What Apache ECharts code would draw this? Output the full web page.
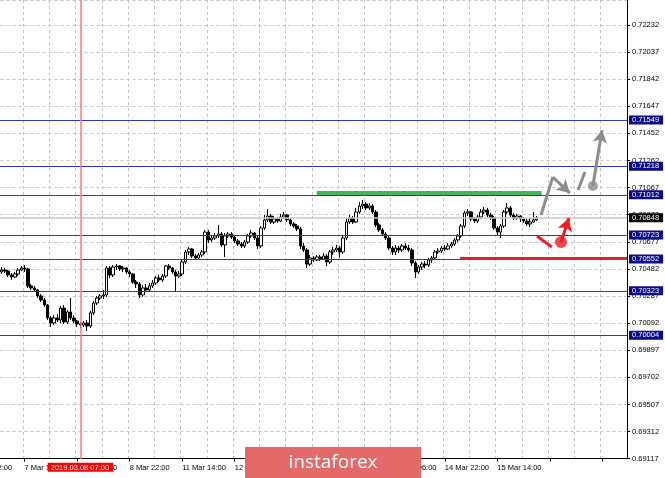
<!DOCTYPE html>
<html>
<head>
<meta charset="utf-8">
<script src="https://cdn.jsdelivr.net/npm/echarts@6/dist/echarts.min.js"></script>
<style>
html,body{margin:0;padding:0;background:#fff;}
#chart{width:665px;height:478px;}
</style>
</head>
<body>
<div id="chart"></div>
<script>
// H1 candles: [open, close, low, high], first bar = 7 Mar 07:00
const candles = [
[0.70458,0.70472,0.70444,0.70494],[0.70472,0.70465,0.70451,0.70487],[0.70465,0.70437,0.70422,0.70472],[0.70437,0.70422,0.70401,0.70451],
[0.70422,0.70444,0.70415,0.70458],[0.70444,0.70472,0.70429,0.70487],[0.70472,0.70487,0.70465,0.70501],[0.70487,0.70480,0.70458,0.70508],
[0.70480,0.70358,0.70343,0.70487],[0.70358,0.70343,0.70329,0.70372],[0.70343,0.70329,0.70314,0.70358],[0.70329,0.70286,0.70271,0.70336],
[0.70286,0.70257,0.70243,0.70300],[0.70257,0.70221,0.70207,0.70271],[0.70221,0.70128,0.70113,0.70228],[0.70128,0.70092,0.70063,0.70142],
[0.70092,0.70128,0.70077,0.70149],[0.70128,0.70113,0.70099,0.70156],[0.70113,0.70199,0.70092,0.70214],[0.70199,0.70099,0.70085,0.70221],
[0.70099,0.70171,0.70085,0.70185],[0.70171,0.70128,0.70113,0.70271],[0.70128,0.70106,0.70092,0.70149],[0.70106,0.70085,0.70063,0.70113],
[0.70085,0.70077,0.70056,0.70099],[0.70077,0.70092,0.70063,0.70106],[0.70092,0.70070,0.70034,0.70113],[0.70070,0.70164,0.70056,0.70178],
[0.70164,0.70235,0.70149,0.70250],[0.70235,0.70271,0.70221,0.70286],[0.70271,0.70286,0.70257,0.70300],[0.70286,0.70293,0.70264,0.70329],
[0.70293,0.70487,0.70279,0.70501],[0.70487,0.70437,0.70415,0.70501],[0.70437,0.70494,0.70422,0.70508],[0.70494,0.70501,0.70472,0.70515],
[0.70501,0.70480,0.70465,0.70508],[0.70480,0.70487,0.70458,0.70501],[0.70487,0.70458,0.70444,0.70494],[0.70458,0.70444,0.70422,0.70472],
[0.70444,0.70386,0.70372,0.70451],[0.70386,0.70372,0.70343,0.70401],[0.70372,0.70293,0.70271,0.70386],[0.70293,0.70343,0.70279,0.70365],
[0.70343,0.70329,0.70314,0.70372],[0.70329,0.70358,0.70322,0.70379],[0.70358,0.70379,0.70343,0.70401],[0.70379,0.70415,0.70365,0.70429],
[0.70415,0.70401,0.70386,0.70437],[0.70401,0.70429,0.70386,0.70444],[0.70429,0.70501,0.70415,0.70508],[0.70501,0.70487,0.70472,0.70515],
[0.70487,0.70458,0.70444,0.70494],[0.70458,0.70429,0.70314,0.70472],[0.70429,0.70444,0.70415,0.70465],[0.70444,0.70530,0.70429,0.70544],
[0.70530,0.70602,0.70515,0.70616],[0.70602,0.70623,0.70580,0.70637],[0.70623,0.70573,0.70559,0.70630],[0.70573,0.70559,0.70544,0.70587],
[0.70559,0.70580,0.70544,0.70594],[0.70580,0.70602,0.70566,0.70616],[0.70602,0.70745,0.70587,0.70760],[0.70745,0.70688,0.70666,0.70760],
[0.70688,0.70702,0.70673,0.70717],[0.70702,0.70717,0.70688,0.70738],[0.70717,0.70731,0.70702,0.70796],[0.70731,0.70652,0.70637,0.70745],
[0.70652,0.70717,0.70566,0.70738],[0.70717,0.70731,0.70702,0.70745],[0.70731,0.70709,0.70695,0.70745],[0.70709,0.70681,0.70666,0.70724],
[0.70681,0.70659,0.70645,0.70695],[0.70659,0.70645,0.70630,0.70673],[0.70645,0.70673,0.70630,0.70688],[0.70673,0.70717,0.70659,0.70731],
[0.70717,0.70738,0.70702,0.70760],[0.70738,0.70702,0.70688,0.70745],[0.70702,0.70645,0.70623,0.70717],[0.70645,0.70774,0.70630,0.70788],
[0.70774,0.70832,0.70760,0.70867],[0.70832,0.70860,0.70817,0.70910],[0.70860,0.70817,0.70803,0.70875],[0.70817,0.70839,0.70803,0.70860],
[0.70839,0.70824,0.70810,0.70853],[0.70824,0.70853,0.70817,0.70875],[0.70853,0.70867,0.70839,0.70889],[0.70867,0.70832,0.70817,0.70875],
[0.70832,0.70803,0.70788,0.70846],[0.70803,0.70788,0.70774,0.70817],[0.70788,0.70767,0.70752,0.70803],[0.70767,0.70645,0.70623,0.70781],
[0.70645,0.70616,0.70602,0.70666],[0.70616,0.70515,0.70487,0.70630],[0.70515,0.70559,0.70501,0.70580],[0.70559,0.70544,0.70530,0.70573],
[0.70544,0.70566,0.70537,0.70580],[0.70566,0.70551,0.70537,0.70580],[0.70551,0.70573,0.70544,0.70594],[0.70573,0.70530,0.70501,0.70587],
[0.70530,0.70602,0.70515,0.70616],[0.70602,0.70616,0.70580,0.70637],[0.70616,0.70630,0.70602,0.70652],[0.70630,0.70602,0.70559,0.70645],
[0.70602,0.70702,0.70587,0.70724],[0.70702,0.70817,0.70688,0.70846],[0.70817,0.70846,0.70803,0.70867],[0.70846,0.70817,0.70803,0.70860],
[0.70817,0.70889,0.70810,0.70918],[0.70889,0.70932,0.70875,0.70961],[0.70932,0.70946,0.70910,0.70975],[0.70946,0.70918,0.70903,0.70961],
[0.70918,0.70932,0.70903,0.70953],[0.70932,0.70889,0.70875,0.70946],[0.70889,0.70796,0.70781,0.70903],[0.70796,0.70760,0.70745,0.70810],
[0.70760,0.70731,0.70717,0.70774],[0.70731,0.70702,0.70688,0.70745],[0.70702,0.70630,0.70616,0.70717],[0.70630,0.70602,0.70580,0.70645],
[0.70602,0.70630,0.70580,0.70652],[0.70630,0.70616,0.70594,0.70645],[0.70616,0.70645,0.70602,0.70659],[0.70645,0.70630,0.70616,0.70666],
[0.70630,0.70616,0.70602,0.70652],[0.70616,0.70523,0.70501,0.70630],[0.70523,0.70458,0.70415,0.70537],[0.70458,0.70494,0.70444,0.70508],
[0.70494,0.70515,0.70472,0.70530],[0.70515,0.70508,0.70487,0.70537],[0.70508,0.70544,0.70494,0.70559],[0.70544,0.70559,0.70523,0.70573],
[0.70559,0.70602,0.70544,0.70616],[0.70602,0.70609,0.70587,0.70630],[0.70609,0.70630,0.70594,0.70645],[0.70630,0.70623,0.70609,0.70652],
[0.70623,0.70645,0.70616,0.70666],[0.70645,0.70659,0.70630,0.70673],[0.70659,0.70688,0.70645,0.70702],[0.70688,0.70717,0.70673,0.70731],
[0.70717,0.70788,0.70702,0.70803],[0.70788,0.70882,0.70774,0.70896],[0.70882,0.70889,0.70860,0.70910],[0.70889,0.70839,0.70824,0.70896],
[0.70839,0.70824,0.70810,0.70853],[0.70824,0.70853,0.70810,0.70867],[0.70853,0.70889,0.70839,0.70910],[0.70889,0.70903,0.70875,0.70925],
[0.70903,0.70867,0.70853,0.70918],[0.70867,0.70846,0.70832,0.70882],[0.70846,0.70774,0.70760,0.70860],[0.70774,0.70745,0.70717,0.70788],
[0.70745,0.70788,0.70702,0.70803],[0.70788,0.70889,0.70774,0.70903],[0.70889,0.70918,0.70875,0.70953],[0.70918,0.70867,0.70853,0.70932],
[0.70867,0.70846,0.70832,0.70882],[0.70846,0.70860,0.70832,0.70875],[0.70860,0.70839,0.70817,0.70867],[0.70839,0.70824,0.70810,0.70853],
[0.70824,0.70803,0.70788,0.70839],[0.70803,0.70817,0.70781,0.70846],[0.70817,0.70832,0.70810,0.70889],[0.70832,0.70846,0.70824,0.70860]
];

// Time-axis tick labels (every 16 bars, first one 9 bars before the first candle)
const xTickLabels = ['6 Mar 22:00','7 Mar 14:00','8 Mar 06:00','8 Mar 22:00','11 Mar 14:00','12 Mar 06:00','12 Mar 22:00','13 Mar 14:00','14 Mar 06:00','14 Mar 22:00','15 Mar 14:00'];
const leadSlots = 9;      // empty slots before first candle (left of the picture)
const totalSlots = 200;   // whole time axis incl. future space on the right

// Price-axis tick labels, bottom to top
const yTickLabels = ['0.69117','0.69312','0.69507','0.69702','0.69897','0.70092','0.70287','0.70482','0.70677','0.70872','0.71067','0.71262','0.71452','0.71647','0.71842','0.72037','0.72232'];
const yMin = 0.69117, yTop = 0.72232, yMax = 0.724116;

// Horizontal levels
const levelValues = ['0.71549','0.71218','0.71012','0.70723','0.70552','0.70323','0.70004'];
const bidValue = '0.70848';
const markerBar = 24; const markerLabel = '2019.03.08 07:00';

// Forecast annotations [barIndex, price]
const greenZone = [[96, 0.71029], [164.5, 0.71029]];
const redZone = [[139.6, 0.70555], [190.5, 0.70555]];
const grayPath = [[164.3, 0.70867], [167.9, 0.71140], [173.1, 0.71025]];
const grayDash = [[175.6, 0.71047], [177.7, 0.71176]];
const grayArrow = [[180.1, 0.71076], [182.9, 0.71478]];
const redDash = [[163.1, 0.70717], [167.6, 0.70637]];
const redArrow = [[170.4, 0.70673], [172.8, 0.70846]];

const categories = [];
for (let k = 0; k < totalSlots; k++) categories.push('b' + (k - leadSlots));
const yStep = (yTop - yMin) / (yTickLabels.length - 1);
const xLo = -leadSlots - 0.5, xHi = totalSlots - leadSlots - 0.5;

const FONT = 'Liberation Sans';
const NAVY = '#3434c4';
const GRAY = '#8c8c8c';
const RED = '#ec1c24';

function seg(a, b, color, width, arrow) {
  return [
    {coord: a, symbol: 'none', lineStyle: {color: color, width: width, type: 'solid'}},
    {coord: b, symbol: arrow ? 'arrow' : 'none', symbolSize: arrow ? [11, 13] : 0}
  ];
}
function boxLabel(text, bg, pos) {
  return {show: true, position: pos, distance: 2, formatter: text, color: '#fff', backgroundColor: bg,
    padding: [1, 4, 0, 3], fontFamily: FONT, fontSize: 7.5};
}
function level(v, color, width, bg) {
  const p = parseFloat(v);
  return [
    {coord: [xLo, p], symbol: 'none', lineStyle: {color: color, width: width, type: 'solid', opacity: 1}, label: boxLabel(v, bg, 'end')},
    {coord: [xHi, p], symbol: 'none'}
  ];
}

const chart = echarts.init(document.getElementById('chart'), null, {renderer: 'canvas'});
chart.setOption({
  animation: false,
  backgroundColor: '#ffffff',
  grid: {left: -29.55, right: 38, top: 0, bottom: 19.3, containLabel: false, outerBoundsMode: 'none'},
  xAxis: [{
    type: 'category', data: categories, boundaryGap: true, gridIndex: 0,
    axisLine: {show: true, onZero: false, lineStyle: {color: '#000', width: 1}},
    axisTick: {show: true, interval: 15, alignWithLabel: true, length: 3, lineStyle: {color: '#000'}},
    axisLabel: {show: true, interval: 15, align: 'left', margin: 5, color: '#000', fontFamily: FONT, fontSize: 7.5,
      hideOverlap: false, formatter: (v, idx) => xTickLabels[idx / 16] || ''},
    splitLine: {show: true, interval: 7, lineStyle: {color: '#c4c4c4', type: [3, 3], width: 1}}
  }, {
    type: 'value', min: xLo, max: xHi, show: false, gridIndex: 0
  }],
  yAxis: [{
    type: 'value', position: 'right', min: yMin, max: yMax, interval: yStep, scale: true,
    axisLine: {show: true, onZero: false, lineStyle: {color: '#000', width: 1}},
    axisTick: {show: true, length: 3, lineStyle: {color: '#000'}},
    axisLabel: {show: true, margin: 5, color: '#000', fontFamily: FONT, fontSize: 7.5, showMaxLabel: false,
      formatter: v => {
        const k = Math.round((v - yMin) / yStep);
        return (k >= 0 && k < yTickLabels.length && Math.abs(v - (yMin + k * yStep)) < yStep / 4) ? yTickLabels[k] : '';
      }},
    splitLine: {show: true, lineStyle: {color: '#c4c4c4', type: [3, 3], width: 1}}
  }],
  series: [{
    type: 'scatter', xAxisIndex: 1, yAxisIndex: 0, z: 1,
    data: [[xLo, yMin]], symbolSize: 0, silent: true,
    markLine: {
      silent: true, animation: false,
      data: levelValues.map(v => level(v, NAVY, 1, '#0b0b86')).concat([
        level(bidValue, '#c8c8c8', 1.5, '#000000'),
        [
          {coord: [markerBar, yMin], symbol: 'none', lineStyle: {color: '#ff7b7b', width: 1.5, type: 'solid'},
            label: Object.assign(boxLabel(markerLabel, '#ff0000', 'start'), {distance: 4})},
          {coord: [markerBar, yMax], symbol: 'none'}
        ]
      ])
    }
  }, {
    type: 'candlestick', xAxisIndex: 0, yAxisIndex: 0,
    data: candles.map((c, i) => ['b' + i, c[0], c[1], c[2], c[3]]),
    encode: {x: 0, y: [1, 2, 3, 4]},
    barWidth: 3,
    itemStyle: {color: '#ffffff', color0: '#000000', borderColor: '#000000', borderColor0: '#000000', borderWidth: 1},
    z: 3
  }, {
    type: 'scatter', xAxisIndex: 1, yAxisIndex: 0, z: 6,
    data: [grayArrow[0]], symbol: 'circle', symbolSize: 10,
    itemStyle: {color: GRAY}, silent: true,
    markLine: {
      silent: true, animation: false, label: {show: false},
      data: [
        seg(greenZone[0], greenZone[1], '#45b35a', 4, false),
        seg(grayPath[0], grayPath[1], GRAY, 3, false),
        seg(grayPath[1], grayPath[2], GRAY, 3, true),
        seg(grayDash[0], grayDash[1], GRAY, 3, false),
        seg(grayArrow[0], grayArrow[1], GRAY, 3, true)
      ]
    }
  }, {
    type: 'scatter', xAxisIndex: 1, yAxisIndex: 0, z: 7,
    data: [redArrow[0]], symbol: 'circle', symbolSize: 12,
    itemStyle: {color: RED}, silent: true,
    markLine: {
      silent: true, animation: false, label: {show: false},
      data: [
        seg(redZone[0], redZone[1], RED, 3, false),
        seg(redDash[0], redDash[1], RED, 3, false),
        seg(redArrow[0], redArrow[1], RED, 3, true)
      ]
    }
  }],
  graphic: [
    {type: 'rect', z: 100, shape: {x: 245, y: 447, width: 176, height: 31}, style: {fill: '#e46a6a'}},
    {type: 'text', z: 101, style: {text: 'instaforex', x: 333, y: 463, fill: '#ffffff', font: '19px "Open Sans"', align: 'center', verticalAlign: 'middle'}}
  ]
});
</script>
</body>
</html>
